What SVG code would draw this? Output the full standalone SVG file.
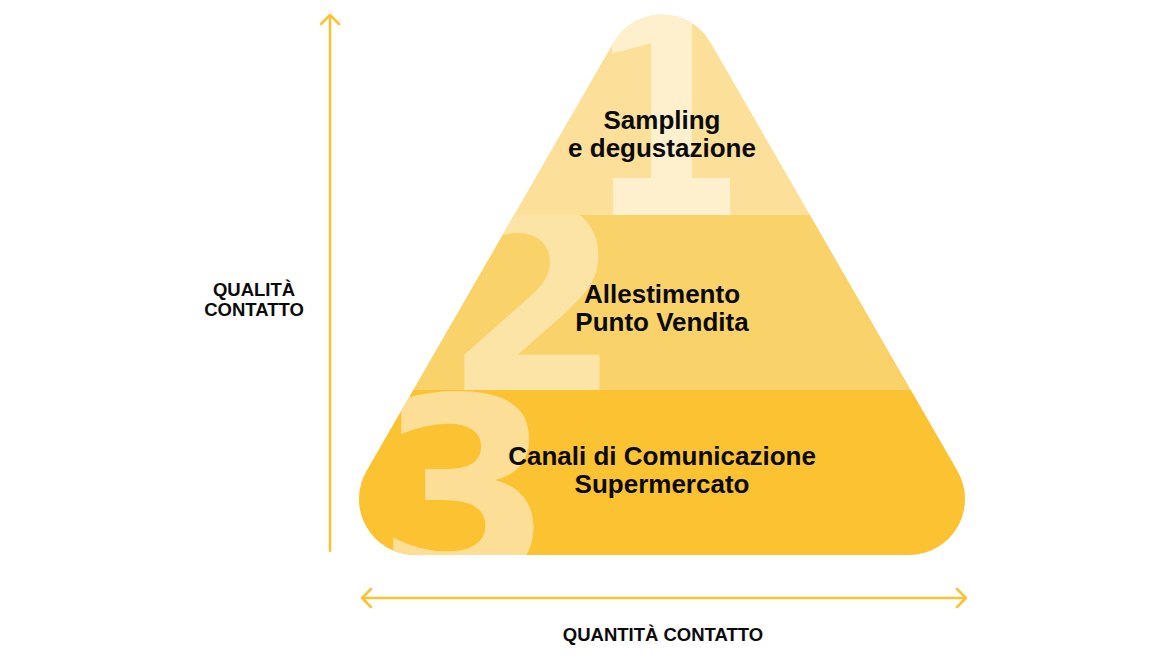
<svg xmlns="http://www.w3.org/2000/svg" width="1170" height="660" viewBox="0 0 1170 660">
<style>
.lbl{font-family:"Liberation Sans",Arial,sans-serif;font-weight:bold;font-size:26px;fill:#0a0a0a;text-anchor:middle}
.ax{font-family:"Liberation Sans",Arial,sans-serif;font-weight:bold;font-size:18.5px;fill:#0a0a0a;text-anchor:middle}
.dig{font-family:"DejaVu Sans",sans-serif;font-weight:bold;font-size:255px;text-anchor:middle}
.axis{fill:none;stroke:#FBC231;stroke-width:2.5;stroke-linecap:round;stroke-linejoin:round}
</style>
<defs>
<clipPath id="pyr"><path d="M613.5 42.5 A56 56 0 0 1 710.5 42.5 L957.5 471 A56 56 0 0 1 909 555 L415 555 A56 56 0 0 1 366.5 471 Z"/></clipPath>
<clipPath id="b1"><rect x="300" y="0" width="720" height="215"/></clipPath>
<clipPath id="b2"><rect x="300" y="215" width="720" height="175"/></clipPath>
<clipPath id="b3"><rect x="300" y="390" width="720" height="170"/></clipPath>
</defs>
<g id="pyramid" clip-path="url(#pyr)">
<g id="level1" clip-path="url(#b1)">
<rect x="300" y="0" width="720" height="215" fill="#FCDF99"/>
<text class="dig" transform="translate(666 215) scale(0.9 1.12)" x="0" y="0" fill="#FEF0CC">1</text>
</g>
<g id="level2" clip-path="url(#b2)">
<rect x="300" y="215" width="720" height="175" fill="#FAD26A"/>
<text class="dig" x="533" y="390" fill="#FCE4A7">2</text>
</g>
<g id="level3" clip-path="url(#b3)">
<rect x="300" y="390" width="720" height="170" fill="#FBC231"/>
<text class="dig" x="465" y="580" fill="#FDDE97">3</text>
</g>
</g>
<g id="labels">
<text class="lbl" x="662" y="129">Sampling</text>
<text class="lbl" x="662" y="157">e degustazione</text>
<text class="lbl" x="662" y="303">Allestimento</text>
<text class="lbl" x="662" y="331">Punto Vendita</text>
<text class="lbl" x="662" y="465">Canali di Comunicazione</text>
<text class="lbl" x="662" y="493">Supermercato</text>
</g>
<g id="connectors">
<path class="axis" d="M330 551 V15 M321 24 L330 15 L339 24"/>
<path class="axis" d="M362 598 H966 M371 589 L362 598 L371 607 M957 589 L966 598 L957 607"/>
</g>
<g id="axis-labels">
<text class="ax" x="254" y="296">QUALITÀ</text>
<text class="ax" x="254" y="316">CONTATTO</text>
<text class="ax" x="663" y="641">QUANTITÀ CONTATTO</text>
</g>
</svg>
